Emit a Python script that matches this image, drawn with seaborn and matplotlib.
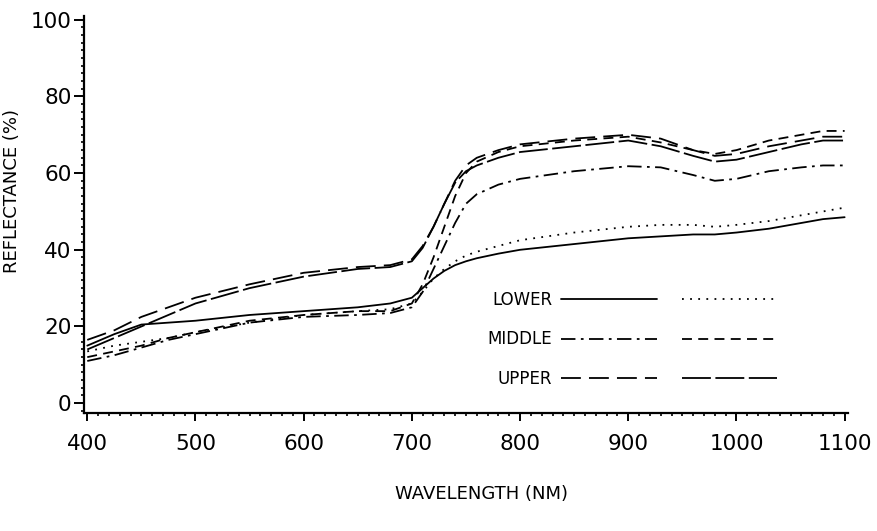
import pandas as pd
import seaborn as sns
import numpy as np
import matplotlib
matplotlib.use('Agg')
import matplotlib.pyplot as plt
from matplotlib.lines import Line2D
from matplotlib.legend_handler import HandlerTuple
from matplotlib.ticker import MultipleLocator

# wavelength grid (nm)
wavelength = [400, 425, 450, 475, 500, 550, 600, 650, 680, 700, 710, 720, 730, 740,
              750, 760, 780, 800, 850, 900, 930, 960, 980, 1000, 1030, 1060, 1080, 1100]

# reflectance (%) for each leaf layer, two samples each
lower_a = [15, 18, 20.5, 21, 21.5, 23, 24, 25, 26, 27.5, 30, 32.5, 34.5, 36,
           37, 37.8, 39, 40, 41.5, 43, 43.5, 44, 44, 44.5, 45.5, 47, 48, 48.5]
lower_b = [13.5, 15, 16, 17, 18.5, 21, 23, 24, 24.5, 26, 29, 32.5, 35, 37,
           38.5, 39.5, 41, 42.5, 44.5, 46, 46.5, 46.5, 46, 46.5, 47.5, 49, 50, 51]
middle_a = [11, 12.5, 14.5, 16.5, 18, 21, 22.5, 23, 23.5, 25, 29, 35, 41, 47,
            52, 54.5, 57, 58.5, 60.5, 61.8, 61.5, 59.5, 58, 58.5, 60.5, 61.5, 62, 62]
middle_b = [12, 13.5, 15, 17, 18.5, 21.5, 23, 24, 24, 26, 31, 38, 46, 54,
            60, 63, 65.5, 67, 68.5, 69.5, 68, 66, 65, 66, 68.5, 70, 71, 71]
upper_a = [16.5, 19, 22.5, 25, 27.5, 31, 34, 35.5, 36, 37.5, 41, 46, 52, 58,
           62, 64, 66, 67.5, 69, 70, 69, 66, 64.5, 65, 67, 68.5, 69.5, 69.5]
upper_b = [14, 17, 20, 23, 26, 30, 33, 35, 35.5, 37, 40.5, 46, 52, 57.5,
           60.5, 62, 64, 65.5, 67, 68.5, 67, 64.5, 63, 63.5, 65.5, 67.5, 68.5, 68.5]

series = {'lower_a': lower_a, 'lower_b': lower_b, 'middle_a': middle_a,
          'middle_b': middle_b, 'upper_a': upper_a, 'upper_b': upper_b}
dash_map = {'lower_a': '', 'lower_b': (1, 3.5), 'middle_a': (8, 3, 1.5, 3),
            'middle_b': (5.5, 3.5), 'upper_a': (11, 4.5), 'upper_b': (16, 2.5)}

df = pd.concat([pd.DataFrame({'wavelength': wavelength, 'reflectance': v, 'series': k})
                for k, v in series.items()], ignore_index=True)

sns.set_style('ticks')
plt.rcParams['font.family'] = ['DejaVu Sans']
plt.rcParams['text.color'] = 'black'
plt.rcParams['axes.labelcolor'] = 'black'
plt.rcParams['xtick.color'] = 'black'
plt.rcParams['ytick.color'] = 'black'

fig = plt.figure(figsize=(8.77, 5.31), dpi=100)
ax = fig.add_axes([0.0958, 0.222, 0.871, 0.748])

sns.lineplot(data=df, x='wavelength', y='reflectance', style='series',
             dashes=dash_map, color='black', linewidth=1.3, legend=False, ax=ax)

ax.set_xlim(397, 1103)
ax.set_ylim(-2.6, 101)
ax.xaxis.set_major_locator(MultipleLocator(100))
ax.xaxis.set_minor_locator(MultipleLocator(10))
ax.yaxis.set_major_locator(MultipleLocator(20))
ax.yaxis.set_minor_locator(MultipleLocator(2))
ax.tick_params(axis='both', which='major', labelsize=15.5, width=1.4)
ax.tick_params(axis='x', which='major', length=6, pad=9, direction='out')
ax.tick_params(axis='x', which='minor', length=2.5, width=1.2, direction='out')
ax.tick_params(axis='y', which='major', length=7, pad=2, direction='out')
ax.tick_params(axis='y', which='minor', length=2.5, width=1.2, direction='out')
sns.despine(ax=ax)
for s in ['left', 'bottom']:
    ax.spines[s].set_linewidth(1.6)
    ax.spines[s].set_color('black')

ax.set_xlabel('WAVELENGTH (NM)', fontsize=13)
ax.set_ylabel('REFLECTANCE (%)', fontsize=13)
ax.xaxis.set_label_coords(0.52, -0.18)
ax.yaxis.set_label_coords(-0.083, 0.56)

# legend: two samples per layer on one row
proxies = {k: Line2D([], [], color='black', linewidth=1.3,
                     linestyle='-' if d == '' else (0, d)) for k, d in dash_map.items()}
handles = [(proxies['lower_a'], proxies['lower_b']),
           (proxies['middle_a'], proxies['middle_b']),
           (proxies['upper_a'], proxies['upper_b'])]
ax.legend(handles, ['LOWER', 'MIDDLE', 'UPPER'],
          handler_map={tuple: HandlerTuple(ndivide=None, pad=1.5)},
          markerfirst=False, frameon=False, handlelength=13, handletextpad=0.5,
          labelspacing=1.28, prop={'size': 12},
          loc='upper left', bbox_to_anchor=(0.509, 0.345))

fig.savefig('out.png', dpi=100)
